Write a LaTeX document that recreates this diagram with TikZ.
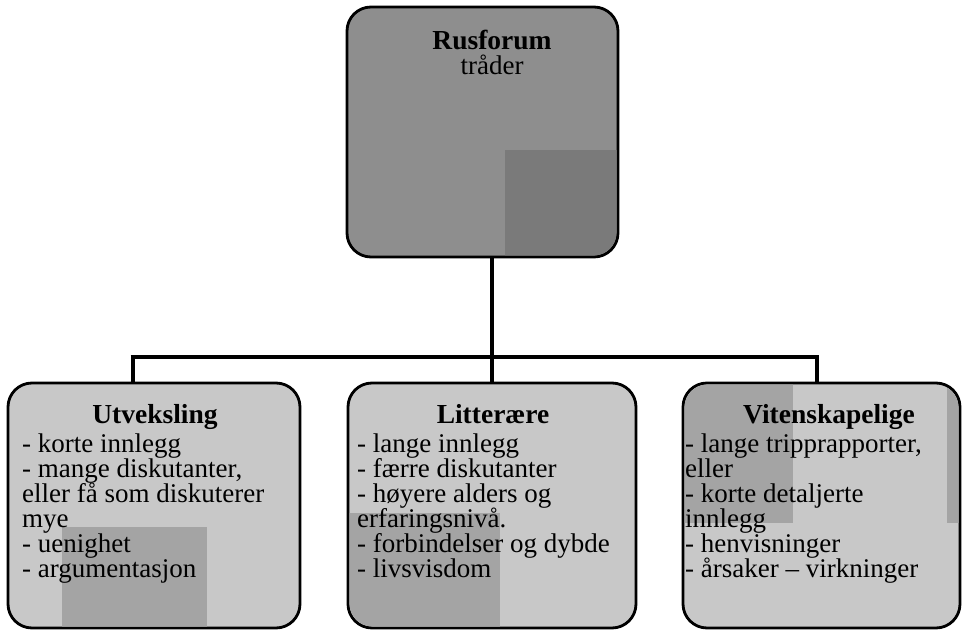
\documentclass[tikz,border=0pt]{standalone}
\usepackage{fontspec}
\setmainfont{Liberation Serif}
\definecolor{topfill}{HTML}{8E8E8E}
\definecolor{topdark}{HTML}{7A7A7A}
\definecolor{botfill}{HTML}{C8C8C8}
\definecolor{botdark}{HTML}{A4A4A4}
\begin{document}
\begin{tikzpicture}[x=1pt,y=-1pt,
  box/.style={draw=black, line width=2.8pt, rounded corners=24pt, inner sep=0pt, outer sep=0pt},
  conn/.style={line width=4.6pt},
  ttl/.style={font=\fontsize{27.5}{25}\selectfont\bfseries, anchor=base, inner sep=0pt},
  txt/.style={font=\fontsize{27}{25}\selectfont, anchor=base west, inner sep=0pt}]
\useasboundingbox (0,0) rectangle (962,631);

% boxes
\node[box, fill=topfill, minimum width=271pt, minimum height=250pt] (top) at (482.5,132) {};
\node[box, fill=botfill, minimum width=292pt, minimum height=245pt] (L) at (154,505.5) {};
\node[box, fill=botfill, minimum width=288pt, minimum height=245pt] (M) at (492,505.5) {};
\node[box, fill=botfill, minimum width=277pt, minimum height=245pt] (R) at (821.5,505.5) {};

% darker scan patches, clipped inside the boxes
\begin{scope}
  \clip[rounded corners=23pt] (348.5,8.5) rectangle (616.5,255.5);
  \fill[topdark] (505,150) rectangle (618,257);
\end{scope}
\begin{scope}
  \clip[rounded corners=23pt] (9.5,384.5) rectangle (298.5,626.5);
  \fill[botdark] (62,527) rectangle (207,628);
\end{scope}
\begin{scope}
  \clip[rounded corners=23pt] (349.5,384.5) rectangle (634.5,626.5);
  \fill[botdark] (348,513) rectangle (500,628);
\end{scope}
\begin{scope}
  \clip[rounded corners=23pt] (684.5,384.5) rectangle (958.5,626.5);
  \fill[botdark] (683,383) rectangle (793,523);
  \fill[botdark] (947,383) rectangle (960,523);
\end{scope}

% connectors
\coordinate (j) at (492,357);
\coordinate (jl) at (133,357);
\coordinate (jr) at (817,357);
\draw[conn] (j |- top.south) -- (j);
\draw[conn] ([xshift=-2.3pt]jl) -- ([xshift=2.3pt]jr);
\draw[conn] (jl) -- (jl |- L.north);
\draw[conn] (j) -- (j |- M.north);
\draw[conn] (jr) -- (jr |- R.north);

% top text
\node[ttl] (t1) at (492,50) {Rusforum};
\node[txt, anchor=base] (t2) at (492,75) {tråder};

% titles
\node[ttl] (lt) at (155,423) {Utveksling};
\node[ttl] (mt) at (493,423) {Litterære};
\node[ttl] (rt) at (829,423) {Vitenskapelige};

% body lines
\foreach \s [count=\i] in {{- korte innlegg},{- mange diskutanter,},{eller få som diskuterer},{mye},{- uenighet},{- argumentasjon}}
  \node[txt] (l\i) at (22,{427+25*\i}) {\s};
\foreach \s [count=\i] in {{- lange innlegg},{- færre diskutanter},{- høyere alders og},{erfaringsnivå.},{- forbindelser og dybde},{- livsvisdom}}
  \node[txt] (m\i) at (357,{427+25*\i}) {\s};
\foreach \s [count=\i] in {{- lange tripprapporter,},{eller},{- korte detaljerte},{innlegg},{- henvisninger},{- årsaker – virkninger}}
  \node[txt] (r\i) at (685,{427+25*\i}) {\s};
\end{tikzpicture}
\end{document}
